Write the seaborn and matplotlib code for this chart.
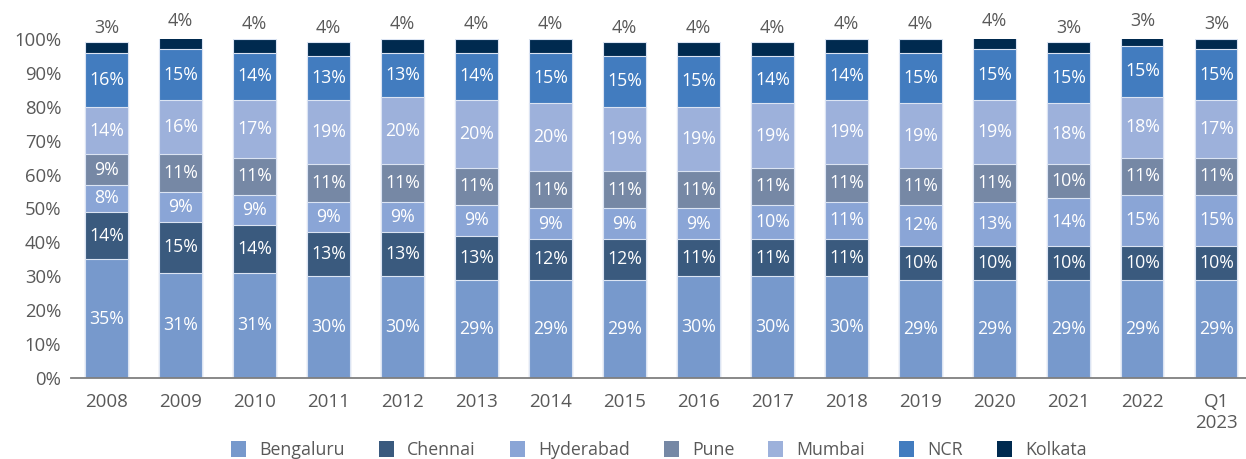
import matplotlib
matplotlib.use("Agg")
import matplotlib.pyplot as plt
import seaborn as sns
import numpy as np
from matplotlib.patches import Patch

# Share of office space absorption by city (%)
periods = ["2008", "2009", "2010", "2011", "2012", "2013", "2014", "2015",
           "2016", "2017", "2018", "2019", "2020", "2021", "2022", "Q1\n2023"]
cities = ["Bengaluru", "Chennai", "Hyderabad", "Pune", "Mumbai", "NCR", "Kolkata"]
bengaluru = [35, 31, 31, 30, 30, 29, 29, 29, 30, 30, 30, 29, 29, 29, 29, 29]
chennai = [14, 15, 14, 13, 13, 13, 12, 12, 11, 11, 11, 10, 10, 10, 10, 10]
hyderabad = [8, 9, 9, 9, 9, 9, 9, 9, 9, 10, 11, 12, 13, 14, 15, 15]
pune = [9, 11, 11, 11, 11, 11, 11, 11, 11, 11, 11, 11, 11, 10, 11, 11]
mumbai = [14, 16, 17, 19, 20, 20, 20, 19, 19, 19, 19, 19, 19, 18, 18, 17]
ncr = [16, 15, 14, 13, 13, 14, 15, 15, 15, 14, 14, 15, 15, 15, 15, 15]
kolkata = [3, 4, 4, 4, 4, 4, 4, 4, 4, 4, 4, 4, 4, 3, 3, 3]

series = [bengaluru, chennai, hyderabad, pune, mumbai, ncr, kolkata]
colors = ["#7799cc", "#3a5a7e", "#8aa5d6", "#7688a5", "#9db1db", "#427cbf", "#002a4f"]

sns.set_theme(style="white")
plt.rcParams["font.family"] = ["Open Sans", "DejaVu Sans"]
text_grey = "#595959"

fig = plt.figure(figsize=(12.46, 4.59), dpi=100)
ax = fig.add_axes([71 / 1246, 81 / 459, 1175 / 1246, 339 / 459])

values = np.array(series, dtype=float)
tops = np.cumsum(values, axis=0)
bottoms = tops - values

# Stacked bars: draw cumulative totals from the top series down so each
# lower segment sits over the one above it.
for k in range(len(cities) - 1, -1, -1):
    sns.barplot(x=periods, y=tops[k], order=periods, color=colors[k],
                saturation=1, width=0.57, errorbar=None,
                edgecolor="#dbe4f3", linewidth=0.8, ax=ax)

for k, name in enumerate(cities):
    for i in range(len(periods)):
        v = values[k, i]
        if name == "Kolkata":
            ax.text(i, tops[k, i] + 4.3, f"{int(v)}%", ha="center", va="center",
                    color=text_grey, fontsize=13, clip_on=False)
        else:
            ax.text(i, bottoms[k, i] + v / 2, f"{int(v)}%", ha="center",
                    va="center", color="white", fontsize=12.8)

ax.set_xlim(-0.48, 15.40)
ax.set_ylim(0, 100)
ax.set_yticks(range(0, 101, 10))
ax.set_yticklabels([f"{t}%" for t in range(0, 101, 10)])
ax.set_xlabel("")
ax.set_ylabel("")
for side in ["left", "top", "right"]:
    ax.spines[side].set_visible(False)
ax.spines["bottom"].set_color("#7f7f7f")
ax.spines["bottom"].set_linewidth(1.3)
ax.tick_params(axis="x", length=0, pad=11, labelsize=13.5, labelcolor=text_grey)
ax.tick_params(axis="y", length=0, pad=7, labelsize=13.3, labelcolor=text_grey)

handles = [Patch(facecolor=c, edgecolor="none") for c in colors]
fig.legend(handles, cities, loc="center", bbox_to_anchor=(659 / 1246, 9 / 459),
           ncol=7, frameon=False, fontsize=12.8, handlelength=0.85,
           handleheight=1.0, handletextpad=0.75, columnspacing=1.9,
           labelcolor=text_grey)

fig.savefig("out.png", dpi=100)
